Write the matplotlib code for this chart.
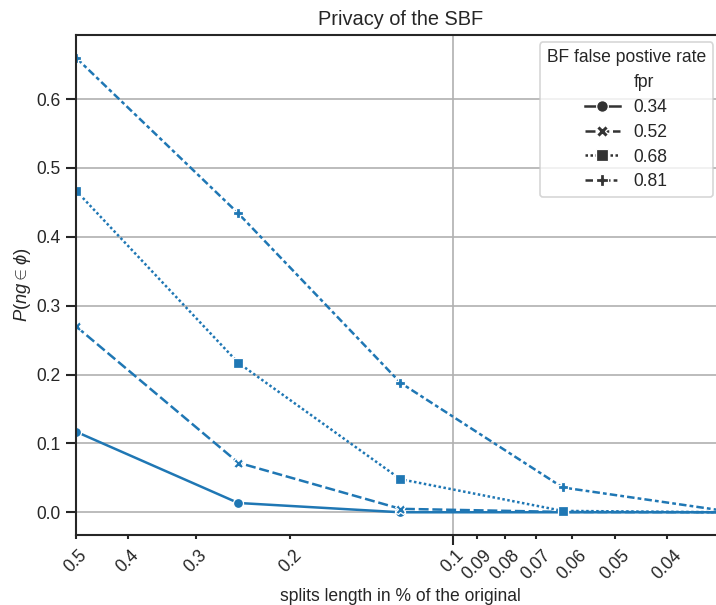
import matplotlib
matplotlib.use("Agg")
import matplotlib.pyplot as plt
import matplotlib.ticker as ticker
from matplotlib.lines import Line2D

plt.rcParams.update({
    'font.family': ['Liberation Sans', 'DejaVu Sans'],
    'mathtext.fontset': 'custom',
    'mathtext.rm': 'Liberation Sans',
    'mathtext.it': 'Liberation Sans:italic',
    'text.color': '0.15',
    'axes.labelcolor': '0.15',
    'xtick.color': '0.15',
    'ytick.color': '0.15',
})

# split length as a fraction of the original
split_len = [0.5, 0.25, 0.125, 0.0625, 0.03125]
fpr_labels = ['0.34', '0.52', '0.68', '0.81']
p_034 = [0.117, 0.0135, 0.0, 0.0, 0.0]
p_052 = [0.270, 0.072, 0.005, 0.0005, 0.0]
p_068 = [0.467, 0.217, 0.048, 0.002, 0.0]
p_081 = [0.660, 0.434, 0.188, 0.036, 0.002]
series = [p_034, p_052, p_068, p_081]

x_minor_ticks = [0.5, 0.4, 0.3, 0.2, 0.09, 0.08, 0.07, 0.06, 0.05, 0.04]

markers = ['o', 'X', 's', 'P']
dashes = [(), (4, 1.5), (1, 1), (3, 1.25, 1.5, 1.25)]
color = '#1f77b4'

DPI = 120
fig = plt.figure(figsize=(716 / DPI, 605 / DPI), dpi=DPI)
ax = fig.add_axes([76 / 716, 70 / 605, 649 / 716, 500 / 605])

for vals, mk, ds in zip(series, markers, dashes):
    line, = ax.plot(split_len, vals, color=color, lw=1.5, marker=mk, ms=6,
                    mec='w', mew=0.75)
    if ds:
        line.set_dashes(ds)

ax.set_xscale('log')
ax.set_xlim(0.5, 0.03125)
ax.set_ylim(-0.033, 0.693)

ax.xaxis.set_major_locator(ticker.FixedLocator([0.1]))
ax.xaxis.set_minor_locator(ticker.FixedLocator(x_minor_ticks))
ax.xaxis.set_major_formatter(ticker.FormatStrFormatter('%g'))
ax.xaxis.set_minor_formatter(ticker.FormatStrFormatter('%g'))
ax.yaxis.set_major_locator(ticker.MultipleLocator(0.1))
ax.yaxis.set_major_formatter(ticker.FormatStrFormatter('%.1f'))

ax.tick_params(axis='both', which='both', labelsize=10.5, width=1.25)
ax.tick_params(axis='both', which='major', length=6)
ax.tick_params(axis='x', which='minor', length=2.5, pad=4.5)
ax.tick_params(axis='x', which='major', pad=1)
for lbl in ax.get_xticklabels(which='both'):
    lbl.set_rotation(45)
    lbl.set_ha('center')

ax.grid(True, which='major', color='#b0b0b0', lw=1)
ax.set_axisbelow(True)
for sp in ax.spines.values():
    sp.set_color('0.15')
    sp.set_linewidth(1.25)

ax.set_title('Privacy of the SBF', fontsize=12)
ax.set_xlabel('splits length in % of the original', fontsize=10.5, labelpad=3)
ax.set_ylabel(r'$P(ng \in \phi)$', fontsize=11, labelpad=2)

handles = [Line2D([], [], linestyle='none', label='fpr')]
for lab, mk, ds in zip(fpr_labels, markers, dashes):
    h = Line2D([], [], color='0.2', lw=1.5, marker=mk, ms=7, mec='w',
               mew=0.75, label=lab)
    if ds:
        h.set_dashes(ds)
    handles.append(h)
leg = ax.legend(handles=handles, title='BF false postive rate', loc='upper right',
                bbox_to_anchor=(713 / 716, 1 - 42 / 605), bbox_transform=fig.transFigure,
                borderaxespad=0, labelspacing=0.45,
                fontsize=10.5, title_fontsize=10.5, framealpha=0.8, edgecolor='0.8')

fig.savefig('out.png', dpi=DPI)
